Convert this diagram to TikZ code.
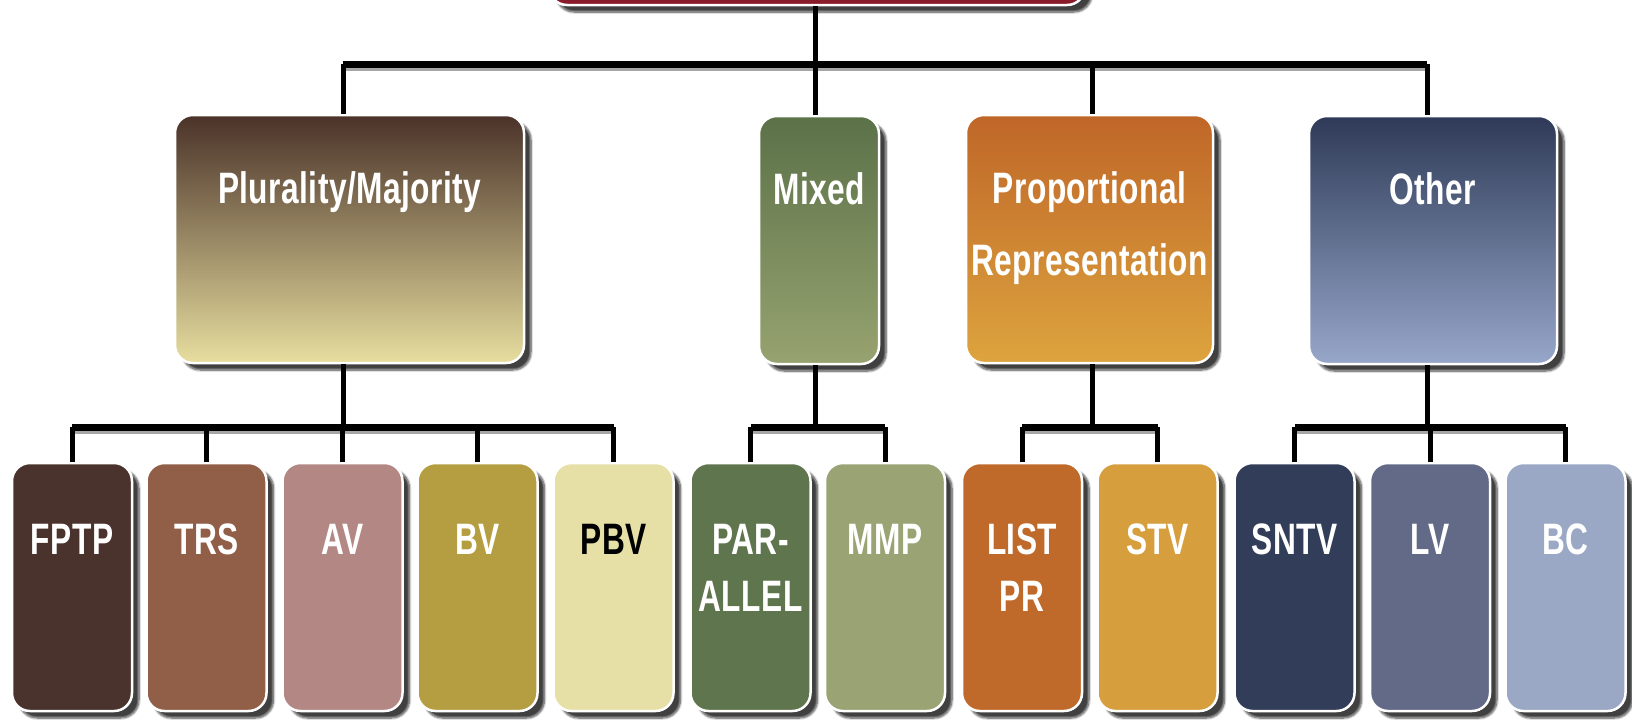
\documentclass[tikz,border=0pt]{standalone}
\usepackage{fontspec}
\setmainfont[FakeStretch=0.72,LetterSpace=1]{Liberation Sans}
\usetikzlibrary{shadows.blur,positioning}
\definecolor{topred}{HTML}{8A1B2B}
\definecolor{pmtop}{HTML}{4A3229}
\definecolor{pmbot}{HTML}{E7DE9F}
\definecolor{mxtop}{HTML}{5B7148}
\definecolor{mxbot}{HTML}{97A370}
\definecolor{prtop}{HTML}{BF6628}
\definecolor{prbot}{HTML}{DDA43E}
\definecolor{ottop}{HTML}{2E3A57}
\definecolor{otbot}{HTML}{97A7CA}
\definecolor{cFPTP}{HTML}{4A332C}
\definecolor{cTRS}{HTML}{915E47}
\definecolor{cAV}{HTML}{B38884}
\definecolor{cBV}{HTML}{B59E42}
\definecolor{cPBV}{HTML}{E6E0A6}
\definecolor{cPAR}{HTML}{5F754D}
\definecolor{cMMP}{HTML}{9AA374}
\definecolor{cLIST}{HTML}{BF6A2B}
\definecolor{cSTV}{HTML}{D69E3D}
\definecolor{cSNTV}{HTML}{313D59}
\definecolor{cLV}{HTML}{636A88}
\definecolor{cBC}{HTML}{9AA8C5}
\begin{document}
\begin{tikzpicture}[x=1pt,y=-1pt,
  box/.style={draw=white, line width=2.5pt, rounded corners=18pt, inner sep=0pt,
    blur shadow={shadow xshift=7pt, shadow yshift=-7pt, shadow blur steps=8, shadow opacity=75}},
  big/.style={box, minimum height=248pt},
  small/.style={box, minimum width=120pt, minimum height=248pt},
  lbl/.style={inner sep=0pt, text=white, font=\bfseries\fontsize{44}{72}\selectfont, align=center},
  slbl/.style={lbl, font=\bfseries\fontsize{44}{57}\selectfont},
  conn/.style={line width=5pt, black},
  bus/.style={line width=7pt, black, preaction={draw=gray!70, line width=7pt, transform canvas={yshift=-3pt}}},
]
\useasboundingbox (0,0) rectangle (1632,721);

% top box (cut off)
\node[box, fill=topred, minimum width=536pt, minimum height=90pt] (top) at (817,-40) {};

% level 2
\node[big, minimum width=349pt, top color=pmtop, bottom color=pmbot] (pm) at (349.5,239) {};
\node[big, minimum width=120pt, top color=mxtop, bottom color=mxbot] (mx) at (819,240) {};
\node[big, minimum width=247pt, top color=prtop, bottom color=prbot] (pr) at (1089.5,239) {};
\node[big, minimum width=248pt, top color=ottop, bottom color=otbot] (ot) at (1433,240) {};

\node[lbl, below=58pt of pm.north] (pmt) {Plurality/Majority};
\node[lbl, below=58pt of mx.north] (mxt) {Mixed};
\node[lbl, below=58pt of pr.north] (prt) {Proportional\\Representation};
\node[lbl, below=58pt of ot.north] (ott) {Other};

% level 3
\node[small, fill=cFPTP] (fptp) at (72,587) {};
\node[small, fill=cTRS] (trs) at (206.5,587) {};
\node[small, fill=cAV] (av) at (342.5,587) {};
\node[small, fill=cBV] (bv) at (477.5,587) {};
\node[small, fill=cPBV] (pbv) at (613.5,587) {};
\node[small, fill=cPAR] (par) at (750.5,587) {};
\node[small, fill=cMMP] (mmp) at (885,587) {};
\node[small, fill=cLIST] (list) at (1022,587) {};
\node[small, fill=cSTV] (stv) at (1157.5,587) {};
\node[small, fill=cSNTV] (sntv) at (1294.5,587) {};
\node[small, fill=cLV] (lv) at (1430,587) {};
\node[small, fill=cBC] (bc) at (1565.5,587) {};

\node[slbl, below=62pt of fptp.north] (fptpt) {FPTP};
\node[slbl, below=62pt of trs.north] (trst) {TRS};
\node[slbl, below=62pt of av.north] (avt) {AV};
\node[slbl, below=62pt of bv.north] (bvt) {BV};
\node[slbl, below=62pt of pbv.north, text=black] (pbvt) {PBV};
\node[slbl, below=62pt of par.north] (part) {PAR-\\ALLEL};
\node[slbl, below=62pt of mmp.north] (mmpt) {MMP};
\node[slbl, below=62pt of list.north] (listt) {LIST\\PR};
\node[slbl, below=62pt of stv.north] (stvt) {STV};
\node[slbl, below=62pt of sntv.north] (sntvt) {SNTV};
\node[slbl, below=62pt of lv.north] (lvt) {LV};
\node[slbl, below=62pt of bc.north] (bct) {BC};

% connectors level 1 -> 2
\coordinate (j0) at (815,64);
\coordinate (j1) at (343,427);
\coordinate (j2) at (815,427);
\coordinate (j3) at (1092,427);
\coordinate (j4) at (1427,427);
\draw[conn] (top.south -| j0) -- (j0);
\draw[bus] (j1 |- j0) -- (j4 |- j0);
\draw[conn] (j1 |- j0) -- (pm.north -| j1);
\draw[conn] (j0) -- (mx.north -| j0);
\draw[conn] (j3 |- j0) -- (pr.north -| j3);
\draw[conn] (j4 |- j0) -- (ot.north -| j4);

% connectors level 2 -> 3
\draw[conn] (pm.south -| j1) -- (j1);
\draw[conn] (mx.south -| j2) -- (j2);
\draw[conn] (pr.south -| j3) -- (j3);
\draw[conn] (ot.south -| j4) -- (j4);
\draw[bus] (fptp.north |- j1) -- (pbv.north |- j1);
\draw[bus] (par.north |- j2) -- (mmp.north |- j2);
\draw[bus] (list.north |- j3) -- (stv.north |- j3);
\draw[bus] (sntv.north |- j4) -- (bc.north |- j4);
\foreach \n in {fptp,trs,av,bv,pbv,par,mmp,list,stv,sntv,lv,bc}
  \draw[conn] (\n.north |- j1) -- (\n.north);
\end{tikzpicture}
\end{document}
